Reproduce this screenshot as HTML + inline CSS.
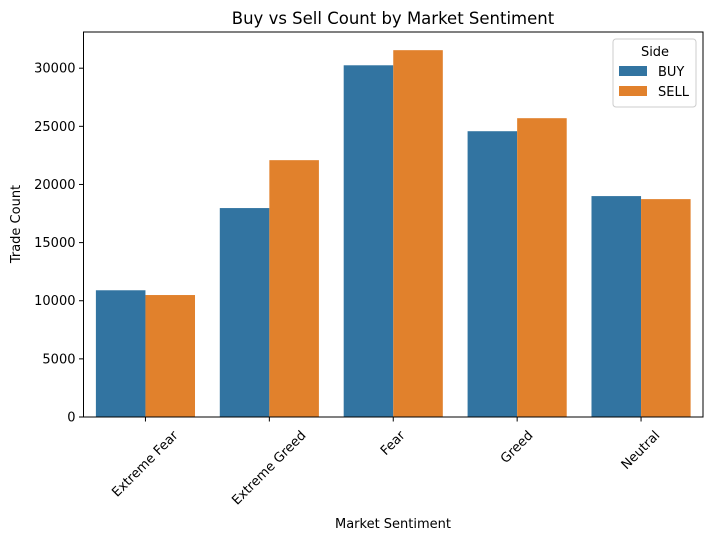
<!DOCTYPE html>
<html><head><meta charset="utf-8"><style>
body{margin:0;background:#fff}
svg{display:block;font-family:"DejaVu Sans","Liberation Sans",sans-serif}
</style></head><body>
<svg id="chart" width="713" height="540" viewBox="0 0 713 540">
<text x="393" y="24" font-size="16.5" text-anchor="middle" fill="#000">Buy vs Sell Count by Market Sentiment</text>
<g id="plot"></g>
<text x="393" y="528" font-size="13" text-anchor="middle">Market Sentiment</text>
<text transform="translate(20,224) rotate(-90)" font-size="13" text-anchor="middle">Trade Count</text>
<g>
<rect x="613" y="39" width="83" height="68" rx="3" fill="#fff" stroke="#ccc"/>
<text x="655" y="56" font-size="13" text-anchor="middle">Side</text>
<rect x="619" y="66" width="28" height="10" fill="#3274a1"/>
<text x="658" y="76" font-size="13">BUY</text>
<rect x="619" y="86" width="28" height="10" fill="#e1812c"/>
<text x="658" y="96" font-size="13">SELL</text>
</g>
</svg>
<script>
const categories=["Extreme Fear","Extreme Greed","Fear","Greed","Neutral"];
const buyValues=[10900,17970,30250,24580,19000];
const sellValues=[10490,22090,31550,25700,18740];
const yTicks=[0,5000,10000,15000,20000,25000,30000];
const NS="http://www.w3.org/2000/svg";
const L=83.5,R=703,T=32,B=417,yMax=33113;
const g=document.getElementById('plot');
const xBand=i=>L+(R-L)/categories.length*i;
const bw=(R-L)/categories.length;
const y=v=>B-(B-T)*v/yMax;
function mk(t,a){const e=document.createElementNS(NS,t);for(const k in a)e.setAttribute(k,a[k]);g.appendChild(e);return e;}
categories.forEach((c,i)=>{
 const x0=xBand(i)+bw*0.1,w=bw*0.4;
 let r=mk('rect',{x:x0,y:y(buyValues[i]),width:w,height:B-y(buyValues[i]),fill:'#3274a1'});
 
 
 r=mk('rect',{x:x0+w,y:y(sellValues[i]),width:w,height:B-y(sellValues[i]),fill:'#e1812c'});
 
 
 const cx=xBand(i)+bw/2;
 const tk=mk('line',{x1:cx,x2:cx,y1:B,y2:B+4.5,stroke:'#000','stroke-width':1});
 
 
 const t=mk('text',{'font-size':13,'text-anchor':'middle','dominant-baseline':'central'});
 t.textContent=c;
 const len=t.getComputedTextLength();
 const cy=429+(len+13)*0.7071/2;
 t.setAttribute('x',cx);t.setAttribute('y',cy);
 t.setAttribute('transform','rotate(-45 '+cx+' '+cy+')');
 
 
});
yTicks.forEach(v=>{
 const yy=y(v);
 const l=mk('line',{x1:L-4.5,x2:L,y1:yy,y2:yy,stroke:'#000','stroke-width':1});
 
 
 const t=mk('text',{x:L-8,y:yy+4.5,'font-size':13,'text-anchor':'end'});
 t.textContent=v;
 
 
});
const f=mk('rect',{x:L,y:T,width:R-L,height:B-T,fill:'none',stroke:'#000','stroke-width':1});


</script>
</body></html>
